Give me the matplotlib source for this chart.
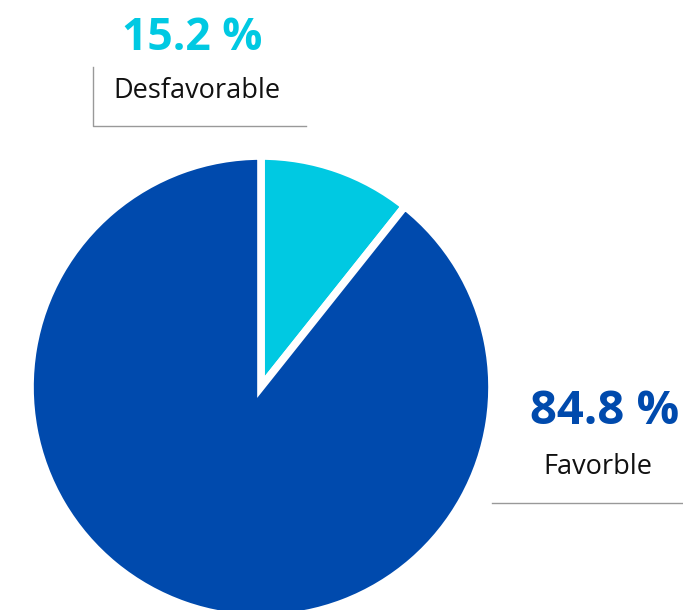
import matplotlib.pyplot as plt

# slice sizes as drawn in the picture, and the printed labels
categories = ['Desfavorable', 'Favorble']
shares = [10.7, 89.3]
pct_labels = ['15.2 %', '84.8 %']
colors = ['#00C9E2', '#004AAD']

W, H = 683, 610
fig = plt.figure(figsize=(W / 100, H / 100), dpi=100)
ax = fig.add_axes([0, 0, 1, 1])

ax.pie(shares, colors=colors, startangle=90, counterclock=False,
       center=(261, H - 387), radius=231, frame=True,
       wedgeprops=dict(edgecolor='white', linewidth=5.5))
ax.set_xlim(0, W)
ax.set_ylim(0, H)
ax.set_aspect('equal')
ax.axis('off')

font = ['Open Sans', 'DejaVu Sans']

# Desfavorable label
ax.text(192, H - 39, pct_labels[0], color=colors[0], fontsize=32,
        fontweight='bold', family=font, ha='center', va='center')
ax.text(197, H - 91, categories[0], color='#111111', fontsize=19.5,
        family=font, ha='center', va='center')
ax.plot([93, 93, 306], [H - 67, H - 126, H - 126], color='#999999', lw=1)

# Favorble label
ax.text(605, H - 412, pct_labels[1], color=colors[1], fontsize=34,
        fontweight='bold', family=font, ha='center', va='center')
ax.text(598, H - 467, categories[1], color='#111111', fontsize=19.5,
        family=font, ha='center', va='center')
ax.plot([492, 683], [H - 503, H - 503], color='#999999', lw=1)

fig.savefig('out.png', dpi=100)
